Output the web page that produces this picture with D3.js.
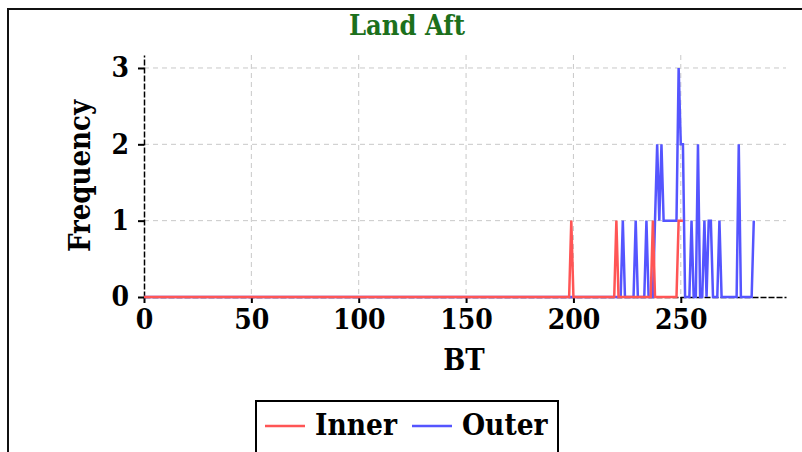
<!DOCTYPE html>
<html><head><meta charset="utf-8">
<script src="https://cdn.jsdelivr.net/npm/d3@7"></script>
<style>body{margin:0;background:#fff}svg{display:block}</style>
</head><body>
<svg id="c" width="802" height="452"></svg>
<script>
const title = "Land Aft";
const xLabel = "BT";
const yLabel = "Frequency";
const seriesNames = ["Inner", "Outer"];
const seriesColors = ["#ff5555", "#5555ff"];
const xTicks = [0, 50, 100, 150, 200, 250];
const yTicks = [0, 1, 2, 3];

// Inner series: BT, frequency
const innerBT   = [0, 198, 199, 200, 219, 220, 221, 236, 237, 238, 248, 249, 250, 251];
const innerFreq = [0,   0,   1,   0,   0,   1,   0,   0,   1,   0,   0,   1,   1,   1];

// Outer series: BT, frequency
const outerBT   = [0, 222, 223, 224, 228, 229, 230, 233, 234, 235, 237, 238, 239, 240, 241, 242, 247, 248, 249, 250, 251, 252, 254, 255, 256, 257, 258, 259, 260, 261, 262, 263, 264, 265, 267, 268, 269, 276, 277, 278, 283, 284];
const outerFreq = [0,   0,   1,   0,   0,   1,   0,   0,   1,   0,   0,   1,   2,   1,   2,   1,   1,   1,   3,   2,   2,   0,   0,   1,   0,   0,   2,   0,   0,   1,   0,   1,   1,   0,   0,   1,   0,   0,   2,   0,   0,   1];

const svg = d3.select("#c");
const font = "'DejaVu Serif Condensed', 'DejaVu Serif', serif";

// outer frame
svg.append("rect").attr("x", 8).attr("y", 9).attr("width", 800).attr("height", 500)
  .attr("fill", "none").attr("stroke", "#111").attr("stroke-width", 2);

const x = d3.scaleLinear().domain([0, 299]).range([144, 786]);
const y = d3.scaleLinear().domain([0, 3.17]).range([297, 55]);

// grid
const grid = svg.append("g");
grid.selectAll("line.v").data(xTicks.filter(d => d > 0)).enter().append("line")
  .attr("x1", d => x(d)).attr("x2", d => x(d)).attr("y1", y(3.17)).attr("y2", y(0))
  .attr("stroke", "#c8c8c8").attr("stroke-width", 1).attr("stroke-dasharray", "5,4");
grid.selectAll("line.h").data(yTicks.filter(d => d > 0)).enter().append("line")
  .attr("x1", x(0)).attr("x2", x(299)).attr("y1", d => y(d)).attr("y2", d => y(d))
  .attr("stroke", "#c8c8c8").attr("stroke-width", 1).attr("stroke-dasharray", "5,4");

// axes
const xAxis = svg.append("g").attr("transform", `translate(0,${y(0)})`)
  .call(d3.axisBottom(x).tickValues(xTicks).tickSizeInner(6).tickSizeOuter(0).tickPadding(6));
const yAxis = svg.append("g").attr("transform", `translate(${x(0)},0)`)
  .call(d3.axisLeft(y).tickValues(yTicks).tickSizeInner(6).tickSizeOuter(0).tickPadding(9).tickFormat(d3.format("d")));
[xAxis, yAxis].forEach(a => {
  a.select(".domain").attr("stroke", "#000").attr("stroke-width", 1.5).attr("stroke-dasharray", "6,2");
  a.selectAll(".tick line").attr("stroke", "#000").attr("stroke-width", 2);
  a.selectAll(".tick text").attr("fill", "#000").attr("font-family", font)
    .attr("font-weight", "bold").attr("font-size", 28);
});

// lines
const line = d3.line().x(d => x(d[0])).y(d => y(d[1]));
const outerData = outerBT.map((b, i) => [b, outerFreq[i]]);
const innerData = innerBT.map((b, i) => [b, innerFreq[i]]);
svg.append("path").datum(outerData).attr("d", line).attr("fill", "none")
  .attr("stroke", seriesColors[1]).attr("stroke-width", 2.5).attr("stroke-linejoin", "miter");
svg.append("path").datum(innerData).attr("d", line).attr("fill", "none")
  .attr("stroke", seriesColors[0]).attr("stroke-width", 2.5).attr("stroke-linejoin", "miter");

// title
svg.append("text").attr("x", 407).attr("y", 35).attr("text-anchor", "middle")
  .attr("font-family", font).attr("font-weight", "bold").attr("font-size", 27)
  .attr("fill", "#1c701c").text(title);

// axis labels
svg.append("text").attr("x", 464).attr("y", 370).attr("text-anchor", "middle")
  .attr("font-family", font).attr("font-weight", "bold").attr("font-size", 29)
  .attr("fill", "#000").text(xLabel);
svg.append("text").attr("transform", "translate(90,176) rotate(-90)").attr("text-anchor", "middle")
  .attr("font-family", font).attr("font-weight", "bold").attr("font-size", 29)
  .attr("fill", "#000").text(yLabel);

// legend
const lg = svg.append("g");
lg.append("rect").attr("x", 256).attr("y", 401).attr("width", 302).attr("height", 70)
  .attr("fill", "#fff").attr("stroke", "#000").attr("stroke-width", 2);
const items = [{n: seriesNames[0], c: seriesColors[0], lx: 265, tx: 315},
               {n: seriesNames[1], c: seriesColors[1], lx: 412, tx: 462}];
items.forEach(it => {
  lg.append("line").attr("x1", it.lx).attr("x2", it.lx + 40).attr("y1", 426).attr("y2", 426)
    .attr("stroke", it.c).attr("stroke-width", 2.5);
  lg.append("text").attr("x", it.tx).attr("y", 435).attr("font-family", font)
    .attr("font-weight", "bold").attr("font-size", 29.5).attr("fill", "#000").text(it.n);
});
</script>
</body></html>
